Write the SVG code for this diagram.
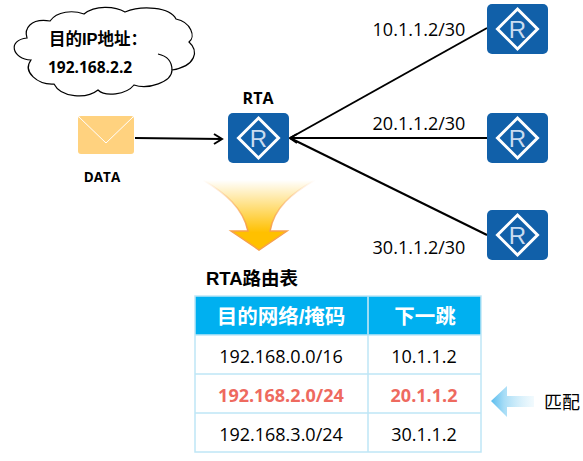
<svg xmlns="http://www.w3.org/2000/svg" width="583" height="461" viewBox="0 0 583 461">
<style>
text{font-family:"Open Sans","Liberation Sans","Noto Sans CJK SC",sans-serif;fill:#000}
.b{font-weight:700}
.cn{font-family:"Liberation Sans","Noto Sans CJK SC",sans-serif}
.m{text-anchor:middle}
.lbl{font-size:18px}
.cell{font-size:18px;text-anchor:middle}
.red{fill:#EE6A5F;font-weight:700}
.hd{font-size:20.500px;font-weight:700;fill:#fff;text-anchor:middle;font-family:"Liberation Sans","Noto Sans CJK SC",sans-serif}
.wire{stroke:#000;stroke-width:2;fill:none}
.grid{stroke:#BFE6F6;stroke-width:1.500;fill:none}
</style>
<defs>
<linearGradient id="down" x1="0" y1="0" x2="0" y2="1"><stop offset="0" stop-color="#FFC000" stop-opacity="0"/><stop offset="0.75" stop-color="#FFC000"/><stop offset="1" stop-color="#FFC000"/></linearGradient>
<linearGradient id="downs" x1="0" y1="0" x2="0" y2="1"><stop offset="0" stop-color="#F79646" stop-opacity="0"/><stop offset="0.7" stop-color="#F7A04B"/></linearGradient>
<linearGradient id="left" x1="0" y1="0" x2="1" y2="0"><stop offset="0" stop-color="#5BBDEE"/><stop offset="0.3" stop-color="#A6DCF6"/><stop offset="1" stop-color="#E4F5FC" stop-opacity="0.500"/></linearGradient>
<g id="router">
<rect x="0" y="0" width="61" height="50" rx="5" fill="#1160A9"/>
<path d="M30.500 5 L50.500 25 L30.500 45 L10.500 25 Z" fill="none" stroke="#fff" stroke-width="3"/>
<text x="30.500" y="33.500" class="m" style="font-family:'Liberation Sans',sans-serif;font-size:24px;fill:#C9DCF0">R</text>
</g>
</defs>
<g id="connectors">
<path class="wire" d="M135 138 L222 139"/>
<path class="wire" d="M214 134 L222 139 L214 144"/>
<path class="wire" d="M290 138 L487 28"/>
<path class="wire" d="M290 138 L487 138"/>
<path class="wire" d="M290 138 L487 235"/>
<path class="wire" d="M297 134 L290 138 L297 143"/>
</g>
<g id="cloud">
<path d="M31 60 C12 59 7 40 27 38 C24 29 30 18 50 21 C57 11 73 10 84 14 C95 5 115 6 125 12 C142 5 170 7 176 19 C191 22 196 37 189 42 C199 51 196 66 172 70 C172 82 148 90 134 85 C126 95 105 97 98 90 C87 99 61 98 54 84 C38 85 22 72 31 60 Z" fill="#fff" stroke="#000" stroke-width="1.200"/>
<path d="M158 54 C167 56 172 62 172 70" fill="none" stroke="#000" stroke-width="1.200"/>
<text x="49" y="45" class="b cn" style="font-size:16.500px">目的IP地址：</text>
<text x="48" y="73" class="b" style="font-size:15.500px">192.168.2.2</text>
</g>
<g id="mail">
<rect x="78" y="116" width="56" height="38" rx="3" fill="#FFD27F"/>
<path d="M79 117 L106 143 L133 117" fill="none" stroke="#fff" stroke-width="1"/>
<text x="102" y="182" class="b m" style="font-size:13.500px">DATA</text>
</g>
<g id="rta">
<use href="#router" x="228" y="113"/>
<text x="258" y="104" class="b m" style="font-size:16px">RTA</text>
</g>
<g id="r1"><use href="#router" x="487" y="4"/><text x="419" y="36" class="lbl m">10.1.1.2/30</text></g>
<g id="r2"><use href="#router" x="487" y="113"/><text x="419" y="130" class="lbl m">20.1.1.2/30</text></g>
<g id="r3"><use href="#router" x="487" y="210"/><text x="419" y="254" class="lbl m">30.1.1.2/30</text></g>
<g id="down-arrow">
<path d="M203 180 C225 193 243 208 248 231 L231 231 L259 250 L287 231 L270 231 C274 208 292 193 315 180 Z" fill="url(#down)"/>
<path d="M203 180 C225 193 243 208 248 231 L231 231 L259 250 L287 231 L270 231 C274 208 292 193 315 180" fill="none" stroke="url(#downs)" stroke-width="1.500"/>
</g>
<g id="table">
<text x="252" y="285" class="b cn m" style="font-size:18.500px">RTA路由表</text>
<rect x="195" y="296" width="286" height="39" fill="#00B0F0"/>
<rect class="grid" x="195" y="296" width="286" height="156"/>
<path class="grid" d="M368 296 V452 M195 335 H481 M195 374 H481 M195 413 H481"/>
<path d="M368 296 V335" stroke="#9FDDF5" stroke-width="1.500"/>
<text x="281" y="324" class="hd">目的网络/掩码</text>
<text x="425" y="324" class="hd">下一跳</text>
<text x="281" y="363" class="cell">192.168.0.0/16</text>
<text x="424" y="363" class="cell">10.1.1.2</text>
<text x="281" y="402" class="cell red">192.168.2.0/24</text>
<text x="424" y="402" class="cell red">20.1.1.2</text>
<text x="281" y="441" class="cell">192.168.3.0/24</text>
<text x="424" y="441" class="cell">30.1.1.2</text>
</g>
<g id="match">
<path d="M491 401 L507 386 L507 396 L534 396 L534 407 L507 407 L507 417 Z" fill="url(#left)"/>
<text x="544" y="409" style="font-size:18px;font-family:'Noto Sans CJK SC',sans-serif">匹配</text>
</g>
</svg>
